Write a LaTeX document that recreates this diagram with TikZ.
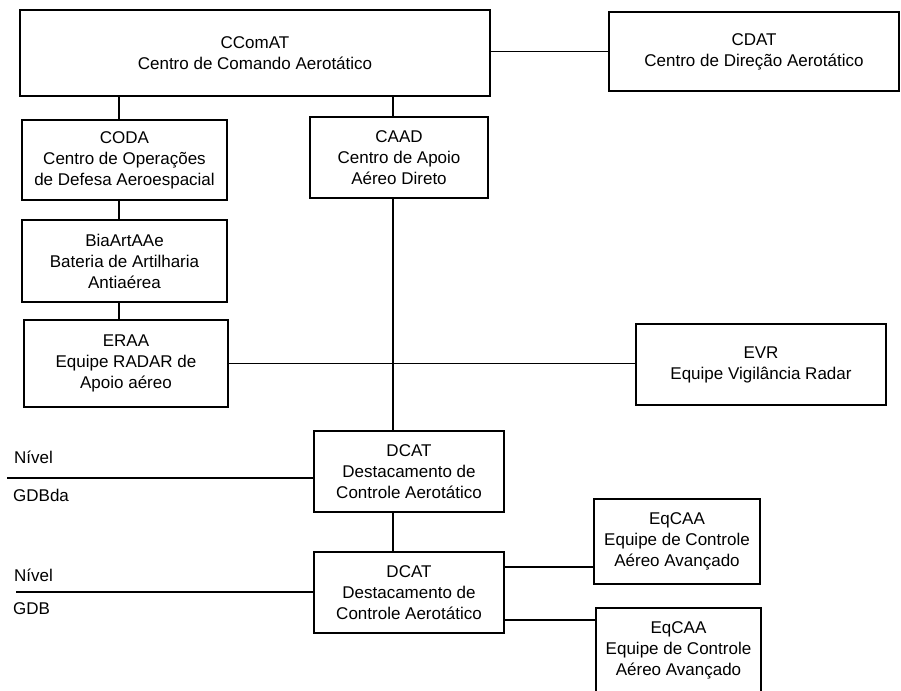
\documentclass[tikz,border=0pt]{standalone}
\usepackage{fontspec}
\setmainfont{Liberation Sans}
\usetikzlibrary{positioning}

\begin{document}
\begin{tikzpicture}[
  x=1pt, y=-1pt,
  box/.style={draw, line width=1.2pt, align=center, inner sep=2pt, font=\fontsize{17}{21}\selectfont},
  ln/.style={line width=1.2pt},
  lvl/.style={anchor=west, inner sep=0pt, font=\fontsize{17}{21}\selectfont}
]
\useasboundingbox (0,0) rectangle (901,690);

% command level
\node[box, minimum width=470pt, minimum height=86pt] (ccomat) at (255,53) {CComAT\\Centro de Comando Aerotático};
\node[box, minimum width=290pt, minimum height=79pt] (cdat) at (754,51.5) {CDAT\\Centro de Direção Aerotático};

% left column
\node[box, minimum width=205pt, minimum height=80pt] (coda) at (124.5,160) {CODA\\Centro de Operações\\de Defesa Aeroespacial};
\node[box, minimum width=205pt, minimum height=82pt] (biaart) at (124.5,261) {BiaArtAAe\\Bateria de Artilharia\\Antiaérea};
\node[box, minimum width=204pt, minimum height=87pt] (eraa) at (126,363.5) {ERAA\\Equipe RADAR de\\Apoio aéreo};

% centre column
\node[box, minimum width=178pt, minimum height=81pt] (caad) at (399,157.5) {CAAD\\Centro de Apoio\\Aéreo Direto};
\node[box, minimum width=250pt, minimum height=81pt] (evr) at (761,364.5) {EVR\\Equipe Vigilância Radar};
\node[box, minimum width=190pt, minimum height=81pt] (dcata) at (409,471.5) {DCAT\\Destacamento de\\Controle Aerotático};
\node[box, minimum width=190pt, minimum height=81pt] (dcatb) at (409,592.5) {DCAT\\Destacamento de\\Controle Aerotático};

% forward teams
\node[box, minimum width=166pt, minimum height=85pt] (eqcaaa) at (677,541.5) {EqCAA\\Equipe de Controle\\Aéreo Avançado};
\node[box, minimum width=165pt, minimum height=85pt] (eqcaab) at (678.5,650.5) {EqCAA\\Equipe de Controle\\Aéreo Avançado};

% levels
\coordinate (lva) at (7,478);
\coordinate (lvb) at (16,592);
\node[lvl] (nivela) at (14,457) {Nível};
\node[lvl] (gdbda) at (13,495) {GDBda};
\node[lvl] (nivelb) at (14,575) {Nível};
\node[lvl] (gdb) at (13,609) {GDB};

\coordinate (trunk) at (393,0);
\coordinate (leftcol) at (119,0);

\draw[ln] (cdat.west -| ccomat.east) -- (cdat.west);
\draw[ln] (ccomat.south -| leftcol) -- (coda.north -| leftcol);
\draw[ln] (coda.south -| leftcol) -- (biaart.north -| leftcol);
\draw[ln] (biaart.south -| leftcol) -- (eraa.north -| leftcol);
\draw[ln] (ccomat.south -| trunk) -- (caad.north -| trunk);
\draw[ln] (caad.south -| trunk) -- (dcata.north -| trunk);
\draw[ln] (dcata.south -| trunk) -- (dcatb.north -| trunk);
\draw[ln] (eraa.east) -- (eraa.east -| evr.west);
\draw[ln] (lva) -- (lva -| dcata.west);
\draw[ln] (lvb) -- (lvb -| dcatb.west);
\draw[ln] ([yshift=25.5pt]dcatb.east) -- ([yshift=25.5pt]dcatb.east -| eqcaaa.west);
\draw[ln] ([yshift=-27.5pt]dcatb.east) -- ([yshift=-27.5pt]dcatb.east -| eqcaab.west);
\end{tikzpicture}
\end{document}
